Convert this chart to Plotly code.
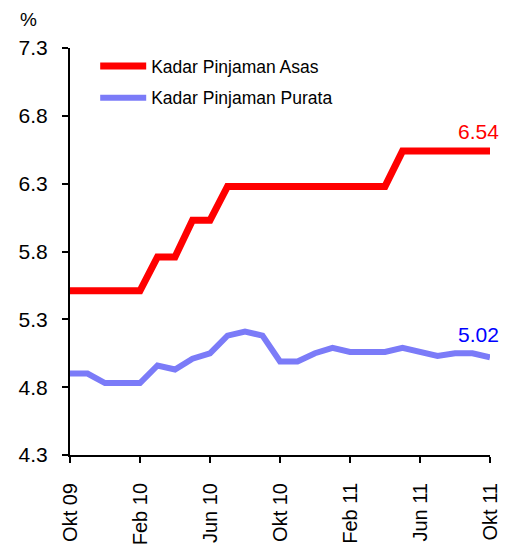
import plotly.graph_objects as go

months = ["Okt 09", "Nov 09", "Dis 09", "Jan 10", "Feb 10", "Mac 10", "Apr 10", "Mei 10",
          "Jun 10", "Jul 10", "Ogo 10", "Sep 10", "Okt 10", "Nov 10", "Dis 10", "Jan 11",
          "Feb 11", "Mac 11", "Apr 11", "Mei 11", "Jun 11", "Jul 11", "Ogo 11", "Sep 11", "Okt 11"]
kadar_asas = [5.51, 5.51, 5.51, 5.51, 5.51, 5.76, 5.76, 6.03, 6.03, 6.28,
              6.28, 6.28, 6.28, 6.28, 6.28, 6.28, 6.28, 6.28, 6.28, 6.54,
              6.54, 6.54, 6.54, 6.54, 6.54]
kadar_purata = [4.90, 4.90, 4.83, 4.83, 4.83, 4.96, 4.93, 5.01, 5.05, 5.18,
                5.21, 5.18, 4.99, 4.99, 5.05, 5.09, 5.06, 5.06, 5.06, 5.09,
                5.06, 5.03, 5.05, 5.05, 5.02]
tick_labels = ["Okt 09", "Feb 10", "Jun 10", "Okt 10", "Feb 11", "Jun 11", "Okt 11"]
y_ticks = [4.3, 4.8, 5.3, 5.8, 6.3, 6.8, 7.3]

FONT = "Liberation Sans, Arial, sans-serif"

fig = go.Figure()
fig.add_trace(go.Scatter(x=months, y=kadar_asas, mode="lines", name="Kadar Pinjaman Asas",
                         line=dict(color="#ff0000", width=7), cliponaxis=False,
                         legendgroup="a"))
fig.add_trace(go.Scatter(x=months, y=kadar_purata, mode="lines", name="Kadar Pinjaman Purata",
                         line=dict(color="#7b7bf8", width=6), cliponaxis=False,
                         legendgroup="b"))

fig.add_annotation(x=months[-1], y=kadar_asas[-1], text=f"{kadar_asas[-1]:.2f}", showarrow=False,
                   xanchor="center", yanchor="bottom", xshift=-12, yshift=6,
                   font=dict(color="#ff0000", size=21, family=FONT))
fig.add_annotation(x=months[-1], y=kadar_purata[-1], text=f"{kadar_purata[-1]:.2f}", showarrow=False,
                   xanchor="center", yanchor="bottom", xshift=-12, yshift=9,
                   font=dict(color="#0000ff", size=21, family=FONT))
fig.add_annotation(xref="paper", yref="paper", x=-0.1, y=1.069, text="%", showarrow=False,
                   xanchor="center", yanchor="middle", font=dict(size=19, color="black", family=FONT))

fig.update_layout(
    width=515, height=549,
    margin=dict(l=62, r=33, t=40, b=102),
    paper_bgcolor="white", plot_bgcolor="white",
    font=dict(family=FONT, color="black"),
    showlegend=True,
    legend=dict(x=0.06, y=1.0, xanchor="left", yanchor="top", bgcolor="rgba(0,0,0,0)",
                font=dict(size=17.5, family=FONT), traceorder="grouped", tracegroupgap=6,
                itemwidth=46),
    xaxis=dict(type="category", range=[0, 24], tickmode="array", tickvals=tick_labels,
               ticktext=tick_labels, tickangle=-90, ticks="outside", ticklen=6, tickwidth=2,
               tickcolor="black", showline=True, linecolor="black", linewidth=2,
               showgrid=False, zeroline=False, tickfont=dict(size=20, family=FONT),
               ticklabelstandoff=12),
    yaxis=dict(range=[4.3, 7.3], tickmode="array", tickvals=y_ticks,
               ticktext=[f"{v:.1f}" for v in y_ticks], ticks="outside", ticklen=6, tickwidth=2,
               tickcolor="black", showline=True, linecolor="black", linewidth=2,
               showgrid=False, zeroline=False, tickfont=dict(size=21, family=FONT),
               ticklabelstandoff=10),
)

fig.write_html("out.html")
